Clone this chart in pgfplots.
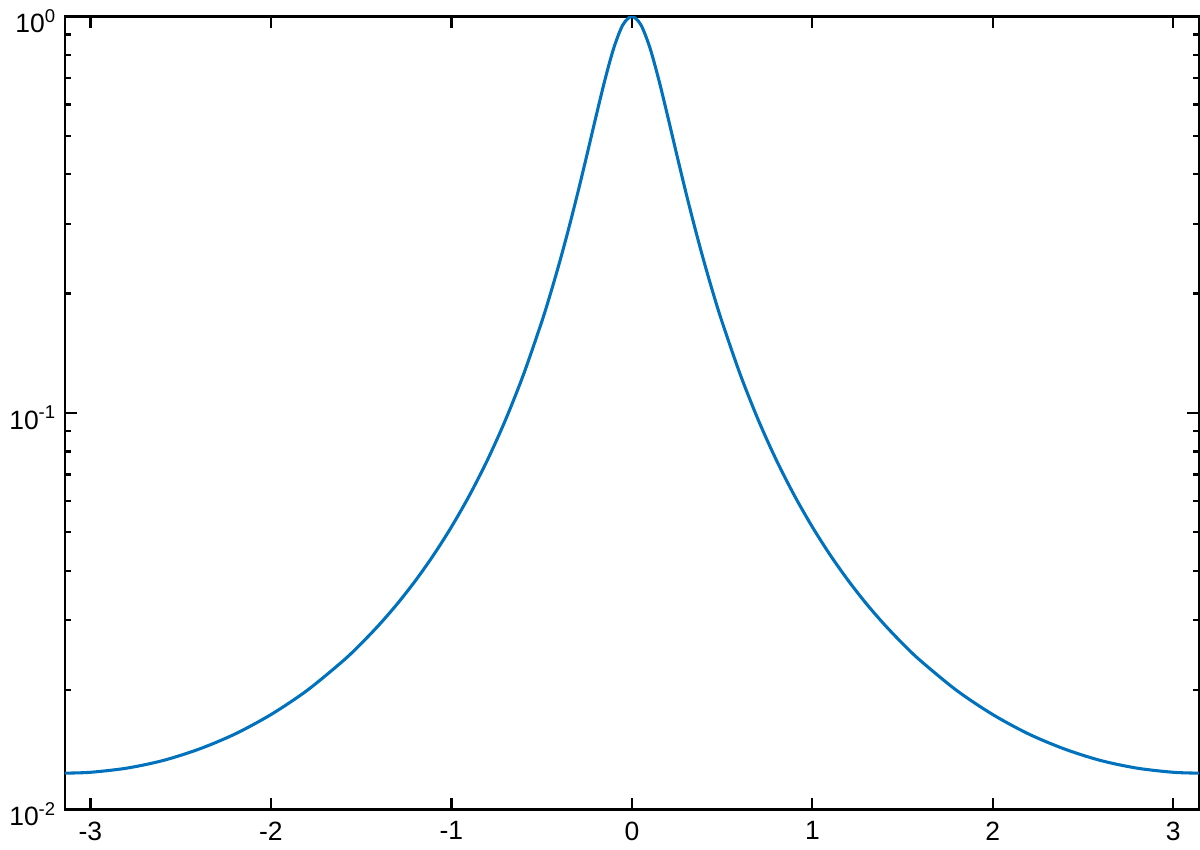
\documentclass[border=0pt]{standalone}
\usepackage{pgfplots}
\pgfplotsset{compat=1.18}
\usepackage{fontspec}
\setmainfont{Liberation Sans}
\definecolor{mblue}{RGB}{0,114,189}
\begin{document}
\begin{tikzpicture}
\begin{axis}[
  scale only axis,
  width=14.3cm, height=10.0cm,
  ymode=log,
  xmin=-3.14159, xmax=3.14159,
  ymin=0.01, ymax=1,
  xtick={-3,-2,-1,0,1,2,3},
  xticklabels={-3,-2,-1,0,1,2,3},
  ytick={0.01,0.1,1},
  yticklabels={10\textsuperscript{-2},10\textsuperscript{-1},10\textsuperscript{0}},
  tick pos=both,
  tick align=inside,
  major tick length=0.15cm,
  minor tick length=0.08cm,
  axis line style={line width=0.8pt},
  every tick/.style={black, line width=0.8pt},
  ticklabel style={font=\fontsize{9.5}{11}\selectfont},
  yticklabel style={xshift=0.02cm, yshift=-0.06cm},
  xticklabel style={yshift=-0.03cm},
]
\addplot[color=mblue, line width=1.1pt, smooth, mark=none] coordinates {
(-3.14159,0.01235)(-3.0,0.01241)(-2.8,0.01271)(-2.6,0.01328)(-2.4,0.01419)
(-2.2,0.01549)(-2.0,0.01735)(-1.8,0.01996)(-1.6,0.02371)(-1.5,0.02620)
(-1.4,0.02924)(-1.3,0.03300)(-1.2,0.03773)(-1.1,0.04375)(-1.0,0.05158)
(-0.9,0.06197)(-0.8,0.07615)(-0.7,0.09610)(-0.6,0.1252)(-0.5,0.1696)
(-0.45,0.2007)(-0.4,0.2405)(-0.35,0.2920)(-0.3,0.3589)(-0.25,0.4457)
(-0.2,0.5564)(-0.15,0.6900)(-0.1,0.8334)(-0.05,0.9524)(0,1)
(0.05,0.9524)(0.1,0.8334)(0.15,0.6900)(0.2,0.5564)(0.25,0.4457)
(0.3,0.3589)(0.35,0.2920)(0.4,0.2405)(0.45,0.2007)(0.5,0.1696)
(0.6,0.1252)(0.7,0.09610)(0.8,0.07615)(0.9,0.06197)(1.0,0.05158)
(1.1,0.04375)(1.2,0.03773)(1.3,0.03300)(1.4,0.02924)(1.5,0.02620)
(1.6,0.02371)(1.8,0.01996)(2.0,0.01735)(2.2,0.01549)(2.4,0.01419)
(2.6,0.01328)(2.8,0.01271)(3.0,0.01241)(3.14159,0.01235)
};
\end{axis}
\end{tikzpicture}
\end{document}
